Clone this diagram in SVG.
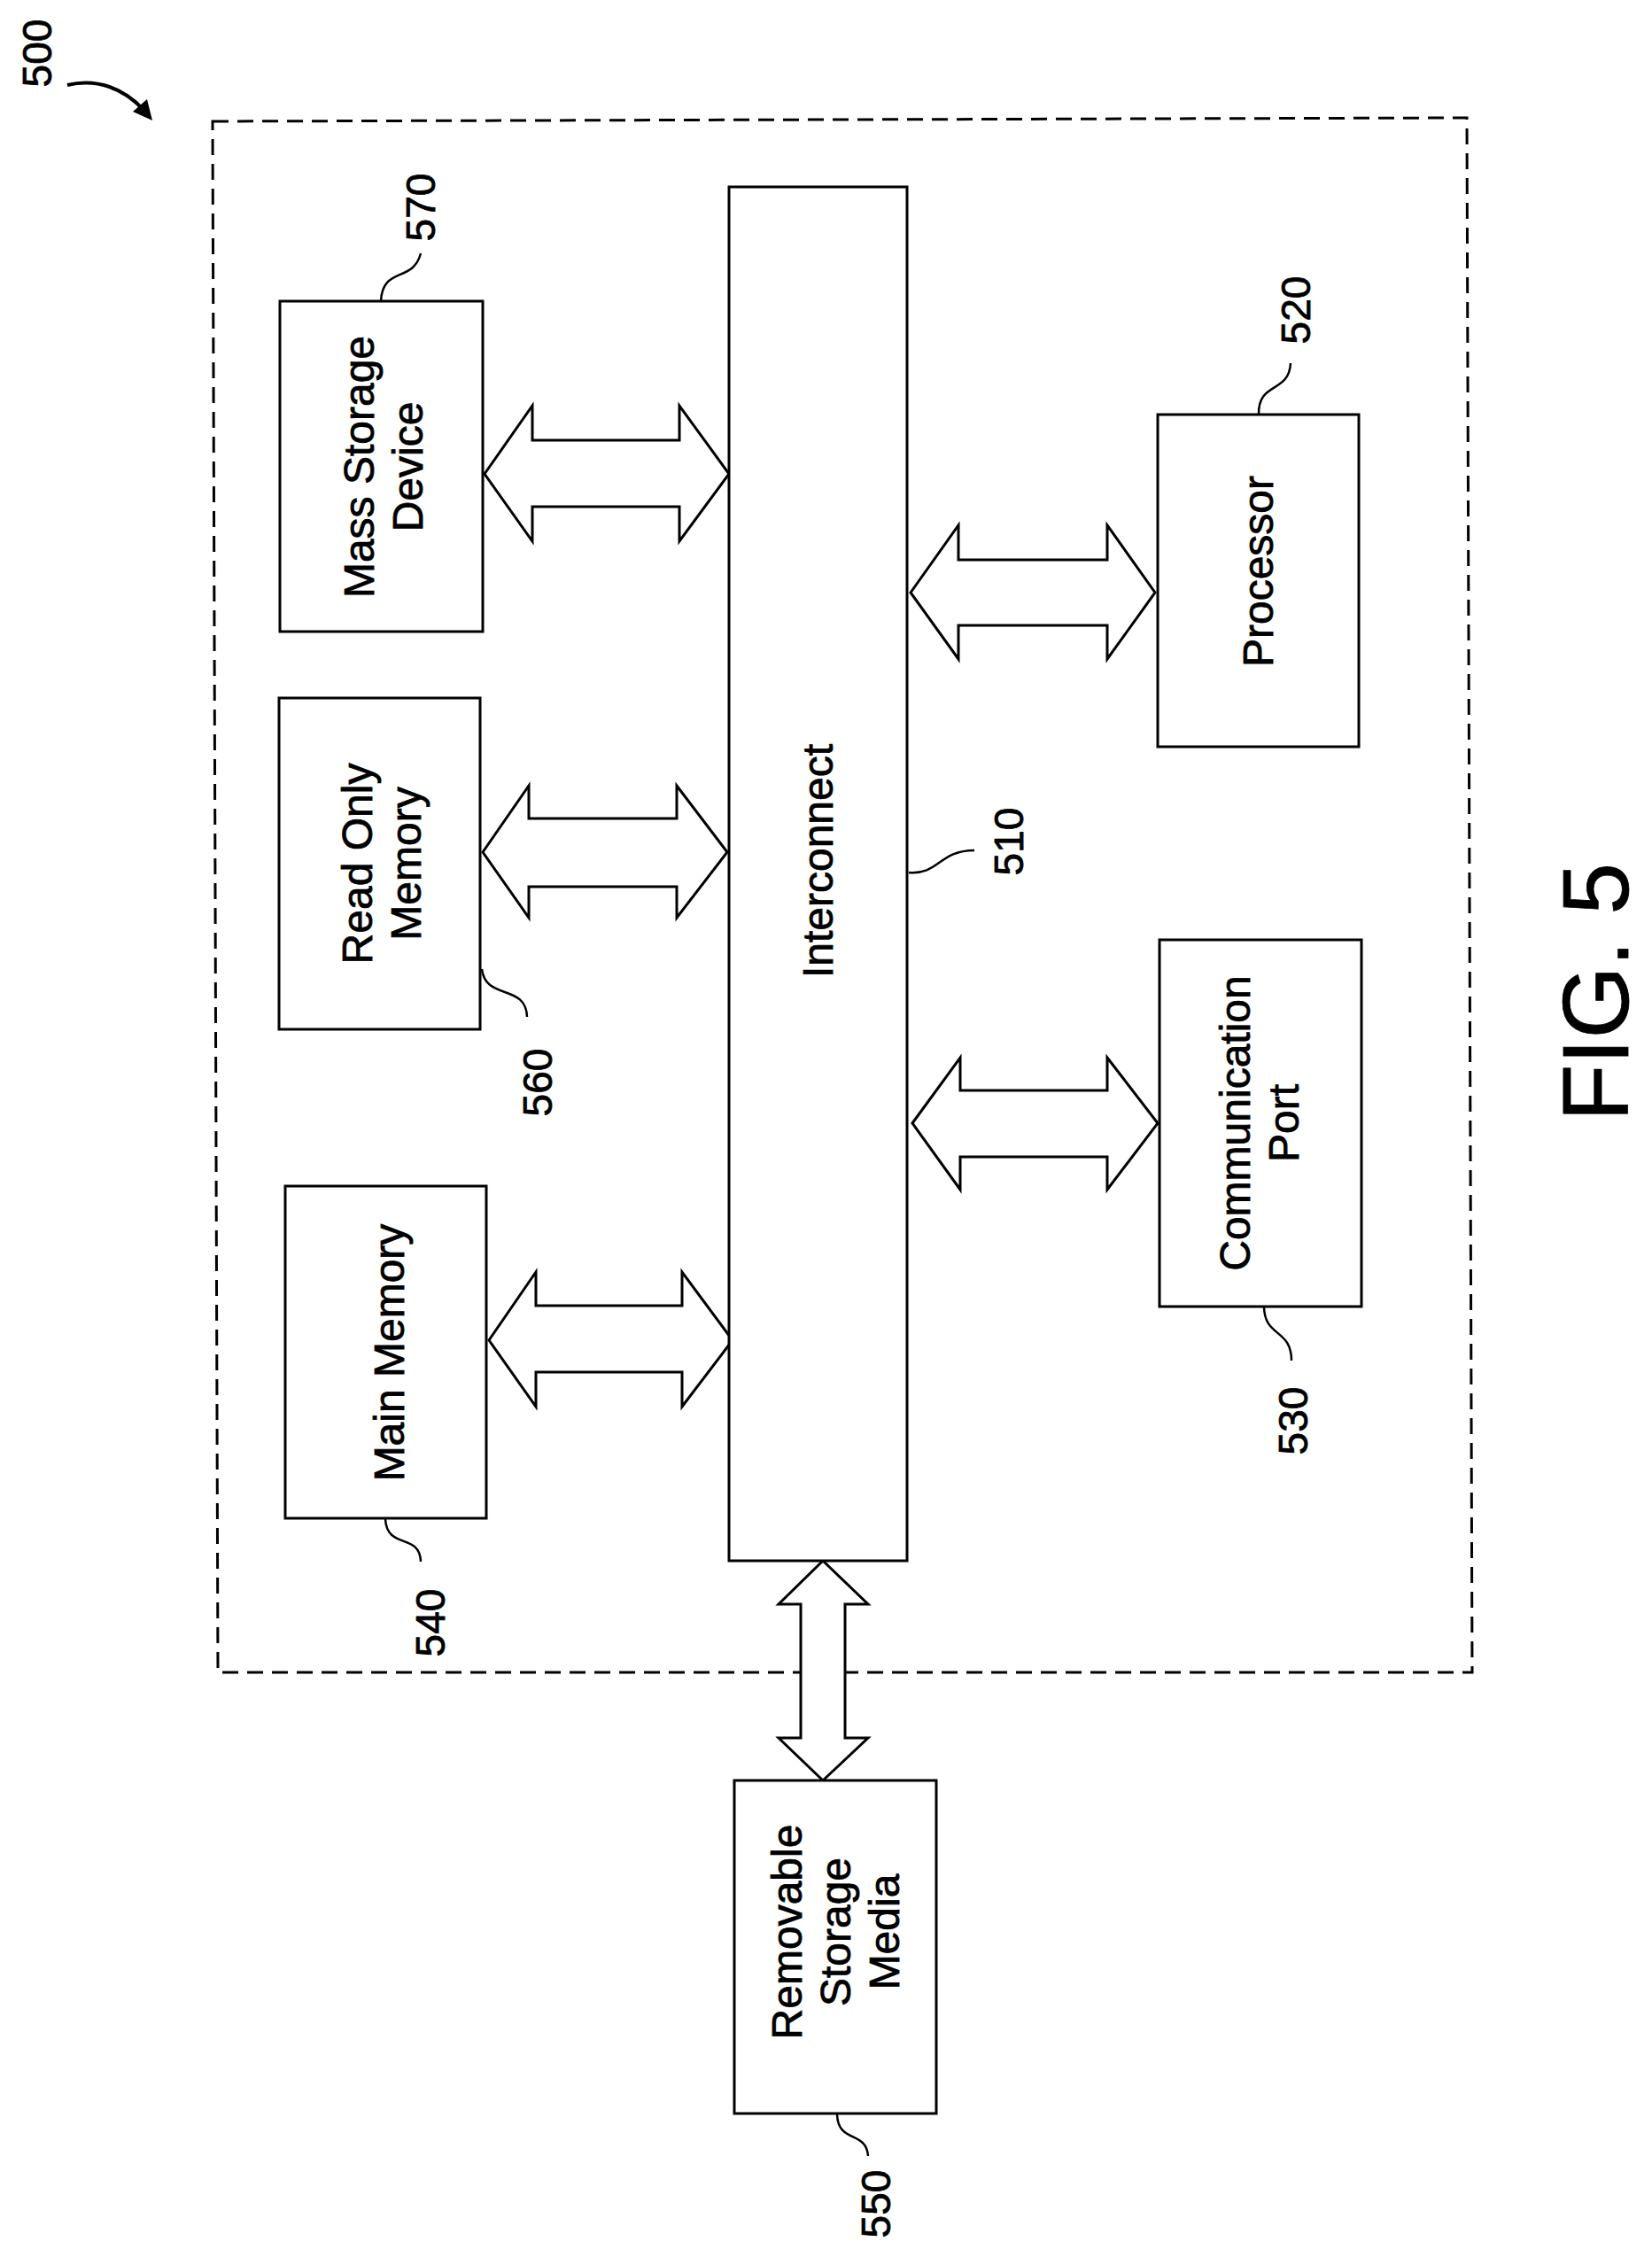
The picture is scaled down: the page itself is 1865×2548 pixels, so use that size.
<svg xmlns="http://www.w3.org/2000/svg" width="1865" height="2548" viewBox="0 0 1865 2548">
<style>
.box{fill:#fff;stroke:#000;stroke-width:3}
.arr{fill:#fff;stroke:#000;stroke-width:3;stroke-linejoin:miter}
.lead{fill:none;stroke:#000;stroke-width:2.5}
text{font-family:"Liberation Sans",Arial,sans-serif;fill:#000;text-anchor:middle;stroke:#000;stroke-width:0.8}
.lbl{font-size:48px}
.num{font-size:46px}
</style>
<rect width="1865" height="2548" fill="#fff"/>
<g id="frame"><path d="M240,137 L1656,133 L1662,1888 L246,1888 Z" fill="none" stroke="#000" stroke-width="3" stroke-dasharray="18,10"/></g>
<g id="ref500"><text class="num" transform="translate(58,60) rotate(-90)">500</text>
<path d="M76,96 C110,88 140,100 162,124" fill="none" stroke="#000" stroke-width="4"/><path d="M150,126 L172,136 L166,112 Z" fill="#000"/></g>
<g id="connectors">
<path class="arr" d="M547,535 L601,458 L601,497 L767,497 L767,458 L823,535 L767,611 L767,572 L601,572 L601,611 Z"/>
<path class="arr" d="M545,962 L597,887 L597,924 L764,924 L764,887 L821,962 L764,1036 L764,1001 L597,1001 L597,1036 Z"/>
<path class="arr" d="M552,1513 L605,1436 L605,1474 L770,1474 L770,1436 L827,1513 L770,1588 L770,1549 L605,1549 L605,1588 Z"/>
<path class="arr" d="M1028,669 L1082,593 L1082,632 L1250,632 L1250,593 L1304,669 L1250,744 L1250,706 L1082,706 L1082,744 Z"/>
<path class="arr" d="M1030,1268 L1084,1194 L1084,1231 L1250,1231 L1250,1194 L1307,1268 L1250,1343 L1250,1306 L1084,1306 L1084,1343 Z"/>
<path class="arr" d="M929,1762 L980,1811 L954,1811 L954,1962 L980,1962 L929,2010 L879,1962 L904,1962 L904,1811 L879,1811 Z"/>
</g>
<g id="n510"><rect class="box" x="823" y="211" width="201" height="1551"/>
<text class="lbl" transform="translate(923,972) rotate(-90)" y="17">Interconnect</text>
<path class="lead" d="M1026,985 C1060,988 1060,960 1100,960"/><text class="num" transform="translate(1139,950) rotate(-90)" y="16">510</text></g>
<g id="n570"><rect class="box" x="316" y="340" width="229" height="373"/>
<text class="lbl" transform="translate(430,527) rotate(-90)"><tspan x="0" y="-8">Mass Storage</tspan><tspan x="0" y="47">Device</tspan></text>
<path class="lead" d="M430,340 C432,300 466,320 475,286"/><text class="num" transform="translate(475,234) rotate(-90)" y="16">570</text></g>
<g id="n560"><rect class="box" x="315" y="788" width="227" height="374"/>
<text class="lbl" transform="translate(428,975) rotate(-90)"><tspan x="0" y="-8">Read Only</tspan><tspan x="0" y="47">Memory</tspan></text>
<path class="lead" d="M544,1094 C548,1130 594,1110 595,1148"/><text class="num" transform="translate(607,1222) rotate(-90)" y="16">560</text></g>
<g id="n540"><rect class="box" x="322" y="1339" width="227" height="375"/>
<text class="lbl" transform="translate(435,1527) rotate(-90)" y="21">Main Memory</text>
<path class="lead" d="M435,1715 C437,1750 474,1730 475,1763"/><text class="num" transform="translate(486,1832) rotate(-90)" y="16">540</text></g>
<g id="n520"><rect class="box" x="1307" y="468" width="227" height="375"/>
<text class="lbl" transform="translate(1420,645) rotate(-90)" y="17">Processor</text>
<path class="lead" d="M1421,468 C1420,430 1455,445 1457,410"/><text class="num" transform="translate(1463,350) rotate(-90)" y="16">520</text></g>
<g id="n530"><rect class="box" x="1309" y="1061" width="228" height="414"/>
<text class="lbl" transform="translate(1423,1268) rotate(-90)"><tspan x="0" y="-12">Communication</tspan><tspan x="0" y="43">Port</tspan></text>
<path class="lead" d="M1427,1476 C1428,1510 1458,1500 1458,1536"/><text class="num" transform="translate(1460,1604) rotate(-90)" y="16">530</text></g>
<g id="n550"><rect class="box" x="829" y="2010" width="228" height="376"/>
<text class="lbl" transform="translate(943,2181) rotate(-90)"><tspan x="0" y="-38">Removable</tspan><tspan x="0" y="17">Storage</tspan><tspan x="0" y="72">Media</tspan></text>
<path class="lead" d="M945,2387 C946,2420 978,2405 980,2434"/><text class="num" transform="translate(989,2488) rotate(-90)" y="16">550</text></g>
<g id="fig"><text transform="translate(1800,1120) rotate(-90)" y="38" style="font-size:105px">FIG. 5</text></g>
</svg>
